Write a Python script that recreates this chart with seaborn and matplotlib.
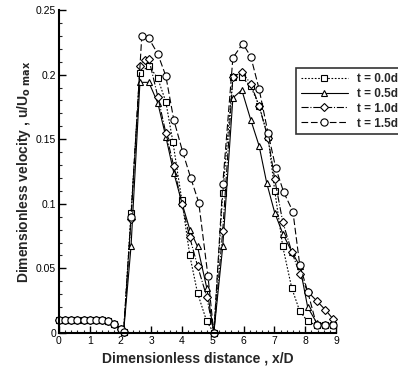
import matplotlib
matplotlib.use("Agg")
import matplotlib.pyplot as plt
import seaborn as sns
import numpy as np
from matplotlib.ticker import MultipleLocator, FuncFormatter

sns.set_theme(style="ticks")
plt.rcParams['font.family'] = ['Liberation Sans', 'DejaVu Sans']

flat_x = [0.0, 0.2, 0.4, 0.6, 0.8, 1.0, 1.2, 1.4, 1.6, 1.8, 2.0, 2.1]
flat_y = [0.010, 0.010, 0.010, 0.010, 0.010, 0.010, 0.010, 0.010, 0.009, 0.007, 0.003, 0.001]

x_t00 = flat_x + [2.34, 2.63, 2.92, 3.21, 3.47, 3.70, 3.99, 4.25, 4.50, 4.80, 5.03, 5.32, 5.65, 5.94, 6.23, 6.50, 6.79, 7.01, 7.27, 7.56, 7.82, 8.08, 8.37, 8.65, 8.90]
y_t00 = flat_y + [0.093, 0.201, 0.207, 0.197, 0.179, 0.148, 0.103, 0.060, 0.031, 0.009, 0.000, 0.108, 0.198, 0.198, 0.191, 0.176, 0.152, 0.110, 0.067, 0.035, 0.017, 0.009, 0.006, 0.006, 0.006]

x_t05 = flat_x + [2.34, 2.63, 2.92, 3.21, 3.47, 3.73, 3.99, 4.25, 4.50, 4.80, 5.03, 5.32, 5.65, 5.94, 6.23, 6.50, 6.75, 7.01, 7.27, 7.56, 7.82, 8.08, 8.37, 8.65, 8.90]
y_t05 = flat_y + [0.067, 0.194, 0.194, 0.178, 0.152, 0.124, 0.101, 0.080, 0.067, 0.035, 0.000, 0.067, 0.182, 0.188, 0.165, 0.145, 0.116, 0.093, 0.077, 0.063, 0.052, 0.020, 0.008, 0.007, 0.007]

x_t10 = flat_x + [2.34, 2.63, 2.79, 2.92, 3.21, 3.47, 3.73, 3.99, 4.25, 4.50, 4.80, 5.03, 5.32, 5.65, 5.94, 6.23, 6.50, 6.79, 7.01, 7.27, 7.56, 7.82, 8.08, 8.37, 8.65, 8.90]
y_t10 = flat_y + [0.088, 0.207, 0.211, 0.212, 0.183, 0.155, 0.129, 0.100, 0.074, 0.052, 0.028, 0.000, 0.079, 0.198, 0.202, 0.193, 0.176, 0.151, 0.119, 0.086, 0.063, 0.046, 0.032, 0.025, 0.018, 0.011]

x_t15 = flat_x + [2.34, 2.69, 2.92, 3.21, 3.47, 3.73, 4.02, 4.28, 4.54, 4.84, 5.03, 5.32, 5.65, 5.97, 6.23, 6.50, 6.79, 7.04, 7.30, 7.60, 7.82, 8.08, 8.37, 8.65, 8.90]
y_t15 = flat_y + [0.090, 0.230, 0.228, 0.216, 0.199, 0.165, 0.140, 0.120, 0.101, 0.044, 0.000, 0.115, 0.213, 0.224, 0.214, 0.189, 0.155, 0.128, 0.109, 0.094, 0.053, 0.032, 0.006, 0.006, 0.006]

labels = ["t = 0.0d", "t = 0.5d", "t = 1.0d", "t = 1.5d"]
series = [(x_t00, y_t00), (x_t05, y_t05), (x_t10, y_t10), (x_t15, y_t15)]
markers = ["s", "^", "D", "o"]
msizes = [4.2, 4.2, 3.8, 5.2]
styles = [(0, (1.5, 1.5)), "-", "-.", (0, (6, 2.5))]

fig = plt.figure(figsize=(3.98, 3.78), dpi=100)
ax = fig.add_axes([59/398, 45/378, 277/398, 323/378])

for (xs, ys), lab, mk, ms, ls in zip(series, labels, markers, msizes, styles):
    sns.lineplot(x=xs, y=ys, ax=ax, color="black", marker=mk, markersize=ms,
                 markerfacecolor="white", markeredgecolor="black", markeredgewidth=0.8,
                 linestyle=ls, linewidth=0.8, label=lab, sort=False, clip_on=False)

ax.set_xlim(0, 9)
ax.set_ylim(0, 0.25)
ax.xaxis.set_major_locator(MultipleLocator(1))
ax.xaxis.set_minor_locator(MultipleLocator(0.2))
ax.yaxis.set_major_locator(MultipleLocator(0.05))
ax.yaxis.set_minor_locator(MultipleLocator(0.01))
ax.xaxis.set_major_formatter(FuncFormatter(lambda v, p: f"{v:g}"))
ax.yaxis.set_major_formatter(FuncFormatter(lambda v, p: f"{v:g}"))
ax.tick_params(axis="both", which="major", direction="in", length=5, width=1.0, labelsize=7.5, colors="black", pad=2)
ax.tick_params(axis="both", which="minor", direction="in", length=2.5, width=0.8)
sns.despine(ax=ax)
for s in ["left", "bottom"]:
    ax.spines[s].set_color("black")
    ax.spines[s].set_linewidth(1.5)
ax.set_facecolor("white")

ax.set_xlabel("Dimensionless distance , x/D", fontsize=10, fontweight="bold", labelpad=4)
ax.set_ylabel(r"Dimensionless velocity , u/U$_{\mathbf{o}\ \mathbf{max}}$", fontsize=10, fontweight="bold", labelpad=2)

ax.get_legend().remove()
handles, labs = ax.get_legend_handles_labels()
leg = fig.legend(handles, labs, loc="upper left", bbox_to_anchor=(296/398, 1 - 68/378),
                 frameon=True, fancybox=False, edgecolor="black", fontsize=8.5,
                 handlelength=4.0, borderpad=0.4, labelspacing=0.25, handletextpad=0.8,
                 borderaxespad=0)
leg.get_frame().set_linewidth(1.2)
for t in leg.get_texts():
    t.set_fontweight("bold")

fig.savefig("out.png", dpi=100, facecolor="white")
